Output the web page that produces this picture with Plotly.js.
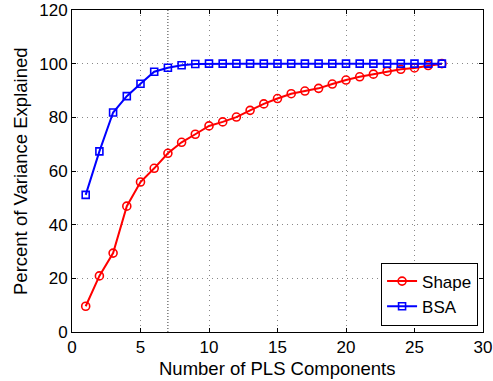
<!DOCTYPE html>
<html><head><meta charset="utf-8">
<script src="https://cdn.plot.ly/plotly-3.0.1.min.js"></script>
<style>html,body{margin:0;padding:0;background:#fff;}#chart{width:493px;height:381px;}</style>
</head><body><div id="chart"></div>
<script>
const components = [1,2,3,4,5,6,7,8,9,10,11,12,13,14,15,16,17,18,19,20,21,22,23,24,25,26,27];
const shapeValues = [9.6,20.9,29.4,46.9,55.9,61.0,66.6,70.7,73.7,76.8,78.3,80.1,82.6,85.0,87.0,88.8,89.8,90.8,92.4,93.9,95.1,96.1,97.1,97.9,98.4,99.3,100];
const bsaValues = [51.1,67.3,81.8,87.9,92.5,97.0,98.5,99.4,99.9,100,100,100,100,100,100,100,100,100,100,100,100,100,100,100,100,100,100];
const seriesNames = ['Shape','BSA'];
const xTicks = [0,5,10,15,20,25,30];
const yTicks = [0,20,40,60,80,100,120];
const selectedComponents = [7];
const xTitle = 'Number of PLS Components';
const yTitle = 'Percent of Variance Explained';

const font = 'Liberation Sans, Arial, Helvetica, sans-serif';
const traces = [
  {x: components, y: shapeValues, name: seriesNames[0], mode: 'lines+markers',
   line: {color: '#ff0000', width: 2},
   marker: {symbol: 'circle-open', size: 8, color: '#ff0000', line: {width: 1.6, color: '#ff0000'}}},
  {x: components, y: bsaValues, name: seriesNames[1], mode: 'lines+markers',
   line: {color: '#0000ff', width: 2},
   marker: {symbol: 'square-open', size: 7, color: '#0000ff', line: {width: 1.6, color: '#0000ff'}}}
];
const axisBase = {
  showline: true, mirror: 'ticks', linecolor: '#000', linewidth: 1,
  ticks: 'inside', ticklen: 4, tickcolor: '#000',
  showgrid: true, gridcolor: '#888888', griddash: '1px,4px', gridwidth: 1,
  zeroline: false, tickfont: {family: font, size: 17, color: '#000'}
};
const layout = {
  width: 493, height: 381,
  margin: {l: 72, r: 10, t: 10, b: 49},
  paper_bgcolor: '#fff', plot_bgcolor: '#fff',
  font: {family: font, color: '#000'},
  xaxis: Object.assign({}, axisBase, {range: [0,30], tickvals: xTicks, ticktext: xTicks.map(String), ticklabelstandoff: 0}),
  yaxis: Object.assign({}, axisBase, {range: [0,120], tickvals: yTicks, ticktext: yTicks.map(String)}),
  annotations: [
    {text: xTitle, xref: 'paper', yref: 'paper', x: 0.5, y: 0, xanchor: 'center', yanchor: 'top',
     yshift: -24, showarrow: false, font: {family: font, size: 18.5, color: '#000'}},
    {text: yTitle, xref: 'paper', yref: 'paper', x: 0, y: 0.5, xanchor: 'center', yanchor: 'middle',
     xshift: -52, textangle: -90, showarrow: false, font: {family: font, size: 18.5, color: '#000'}}
  ],
  shapes: selectedComponents.map(v => ({type: 'line', xref: 'x', yref: 'paper', x0: v, x1: v, y0: 0, y1: 1,
    line: {color: '#333333', width: 1, dash: '1px,2px'}, layer: 'below'})),
  legend: {x: 0.988, y: 0.02, xanchor: 'right', yanchor: 'bottom', bgcolor: '#fff',
    bordercolor: '#000', borderwidth: 1, font: {family: font, size: 17}, tracegroupgap: 0},
  showlegend: true
};
Plotly.newPlot('chart', traces, layout, {displayModeBar: false, staticPlot: true});
</script></body></html>
